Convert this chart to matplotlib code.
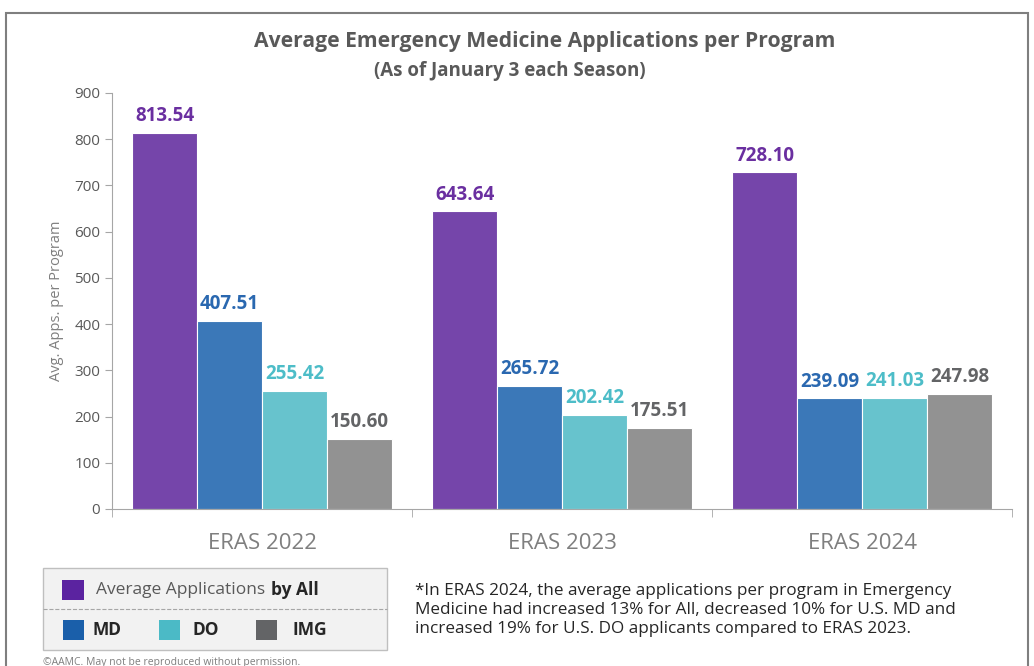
import numpy as np
import matplotlib.pyplot as plt
from matplotlib.patches import Rectangle
from matplotlib.lines import Line2D

seasons = ['ERAS 2022', 'ERAS 2023', 'ERAS 2024']
series = ['All', 'MD', 'DO', 'IMG']
all_apps = [813.54, 643.64, 728.10]
md_apps = [407.51, 265.72, 239.09]
do_apps = [255.42, 202.42, 241.03]
img_apps = [150.60, 175.51, 247.98]

bar_colors = ['#7545AA', '#3B78B8', '#67C3CD', '#929292']
label_colors = ['#6A2FA0', '#2A68B0', '#4DBDC8', '#636466']
legend_colors = ['#5B23A0', '#1A5FAA', '#4BBAC6', '#636466']

W, H = 1034, 666
plt.rcParams['font.family'] = ['Open Sans', 'DejaVu Sans']


def fx(x):
    return x / W


def fy(y):
    return 1 - y / H


fig = plt.figure(figsize=(W / 100, H / 100), dpi=100)
ax = fig.add_axes([fx(112), fy(509), 900 / W, 416 / H])

x = np.arange(len(seasons))
width = 65 / 300
values = [all_apps, md_apps, do_apps, img_apps]
for i, vals in enumerate(values):
    pos = x + (i - 1.5) * width
    bars = ax.bar(pos, vals, width, color=bar_colors[i], edgecolor='white', linewidth=0.8)
    for b, v in zip(bars, vals):
        ax.annotate(f'{v:.2f}', (b.get_x() + b.get_width() / 2, v), xytext=(0, 5),
                    textcoords='offset points', ha='center', va='bottom',
                    fontsize=13.5, fontweight='bold', color=label_colors[i])

ax.set_xlim(-0.5, 2.5)
ax.set_ylim(0, 900)
ax.set_yticks(range(0, 901, 100))
ax.set_xticks(x)
ax.set_xticklabels(seasons, fontsize=16, color='#7F7F7F')
ax.set_xticks([-0.5, 0.5, 1.5, 2.5], minor=True)
ax.tick_params(axis='x', which='major', length=0, pad=17)
ax.tick_params(axis='x', which='minor', length=6, color='#A6A6A6')
ax.tick_params(axis='y', length=5, color='#A6A6A6', labelsize=11, labelcolor='#595959')
for s in ['top', 'right']:
    ax.spines[s].set_visible(False)
for s in ['left', 'bottom']:
    ax.spines[s].set_color('#A6A6A6')
ax.set_ylabel('Avg. Apps. per Program', fontsize=10.5, color='#7F7F7F', labelpad=7)

fig.text(fx(545), fy(42), 'Average Emergency Medicine Applications per Program',
         ha='center', va='center', fontsize=15.2, fontweight='bold', color='#595959')
fig.text(fx(510), fy(71), '(As of January 3 each Season)',
         ha='center', va='center', fontsize=13.5, fontweight='bold', color='#595959')

# outer frame
fig.add_artist(Rectangle((fx(6), fy(700)), fx(1022), 687 / H, transform=fig.transFigure,
                         fill=False, edgecolor='#7F7F7F', linewidth=1.5))

# legend box
fig.add_artist(Rectangle((fx(43), fy(650)), fx(344), 82 / H, transform=fig.transFigure,
                         facecolor='#F2F2F2', edgecolor='#BFBFBF', linewidth=1))
fig.add_artist(Line2D([fx(43), fx(387)], [fy(609), fy(609)], transform=fig.transFigure,
                      color='#A6A6A6', linewidth=0.8, linestyle='--'))
fig.add_artist(Rectangle((fx(62), fy(600)), fx(22), 20 / H, transform=fig.transFigure,
                         facecolor=legend_colors[0], edgecolor='none'))
fig.text(fx(96), fy(590), 'Average Applications', ha='left', va='center',
         fontsize=12.5, color='#595959')
fig.text(fx(271), fy(590), 'by All', ha='left', va='center',
         fontsize=12.5, fontweight='bold', color='#262626')
for col, sx, lx, name in zip(legend_colors[1:], [63, 159, 256], [93, 192, 292], series[1:]):
    fig.add_artist(Rectangle((fx(sx), fy(640)), fx(21), 20 / H, transform=fig.transFigure,
                             facecolor=col, edgecolor='none'))
    fig.text(fx(lx), fy(630), name, ha='left', va='center',
             fontsize=12.5, fontweight='bold', color='#262626')

note = ('*In ERAS 2024, the average applications per program in Emergency\n'
        'Medicine had increased 13% for All, decreased 10% for U.S. MD and\n'
        'increased 19% for U.S. DO applicants compared to ERAS 2023.')
fig.text(fx(415), fy(610), note, ha='left', va='center', fontsize=12.3,
         color='#262626', linespacing=1.28)
fig.text(fx(43), fy(662), '\u00a9AAMC. May not be reproduced without permission.',
         ha='left', va='center', fontsize=7.5, color='#7F7F7F')

fig.savefig('out.png', dpi=100)
